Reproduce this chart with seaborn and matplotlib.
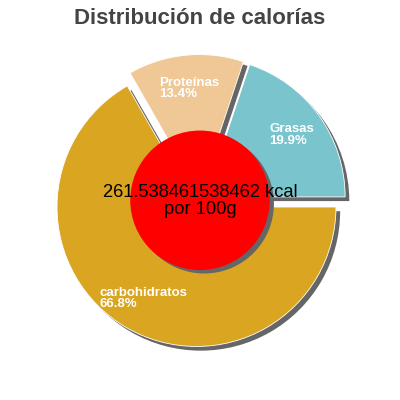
import matplotlib
matplotlib.use("Agg")
import matplotlib.pyplot as plt
import seaborn as sns

# Data
categories = ["carbohidratos", "Proteínas", "Grasas"]
percentages = [66.8, 13.4, 19.9]
slice_colors = ["#daa520", "#f0c896", "#79c4cd"]
kcal_text = "261.538461538462 kcal\npor 100g"
title = "Distribución de calorías"

sns.set_theme(style="white")
plt.rcParams["font.family"] = ["Liberation Sans", "DejaVu Sans"]

fig = plt.figure(figsize=(4, 4), dpi=100)
ax = fig.add_axes([0, 0, 1, 1])
ax.set_aspect("equal")

explode = [0.05] * len(percentages)
shadow_gray = "#666666"

# shadow layer
ax.pie(percentages, startangle=0, counterclock=False, explode=explode,
       colors=[shadow_gray] * len(percentages), center=(0.03, -0.03),
       wedgeprops=dict(linewidth=0))

labels = [f"{c}\n{p:.1f}%" for c, p in zip(categories, percentages)]
wedges, texts = ax.pie(percentages, startangle=0, counterclock=False,
                       explode=explode, colors=slice_colors, labels=labels,
                       labeldistance=0.76,
                       wedgeprops=dict(linewidth=0.6, edgecolor="white"))
for t in texts:
    t.set_color("white")
    t.set_fontsize(9.5)
    t.set_fontweight("bold")
    t.set_ha("center")
    t.set_va("center")
    t.set_multialignment("left")
    t.set_linespacing(0.95)

# centre disc with shadow
ax.pie([1], radius=0.5, colors=[shadow_gray], center=(0.03, -0.02),
       wedgeprops=dict(linewidth=0))
ax.pie([1], radius=0.5, colors=["#ff0000"], center=(0, 0.005),
       wedgeprops=dict(linewidth=0))
ax.text(0, 0.0, kcal_text, ha="center", va="center", fontsize=13.2,
        color="black", linespacing=1.0)

ax.set_xlim(-1.434, 1.434)
ax.set_ylim(-1.427, 1.441)
ax.axis("off")

fig.text(0.5, 0.955, title, ha="center", va="center", fontsize=16,
         fontweight="bold", color="#444444")

fig.savefig("out.png", dpi=100)
